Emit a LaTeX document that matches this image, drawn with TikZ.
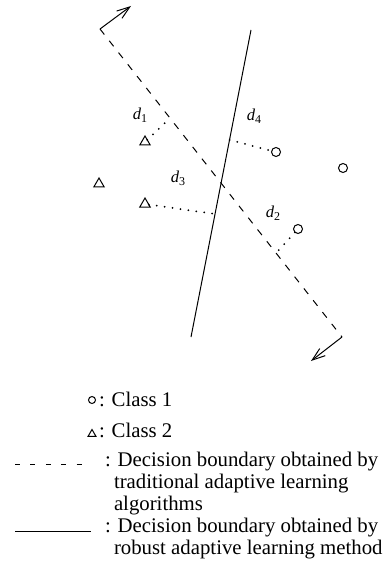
\documentclass[tikz,border=0pt]{standalone}
\usepackage{fontspec}
\setmainfont{Liberation Serif}
\usetikzlibrary{arrows.meta,shapes.geometric}
\newcommand{\dsub}[1]{\textit{d}\raisebox{-0.35ex}{\fontsize{6}{6}\selectfont\upshape #1}}
\begin{document}
\begin{tikzpicture}[x=0.5pt,y=-0.5pt,
  every node/.style={inner sep=0pt, outer sep=0pt},
  bound/.style={line width=0.5pt},
  tradline/.style={bound, dash pattern=on 3.5pt off 4pt},
  barb/.style={bound, -{Straight Barb[length=6.5pt,width=4.5pt]}},
  gapline/.style={line width=1pt, line cap=round, dash pattern=on 0pt off 4pt},
  cls1/.style={circle, draw, line width=0.5pt, minimum size=4.5pt},
  cls2/.style={regular polygon, regular polygon sides=3, draw, line width=0.5pt, minimum size=6pt},
  dlabel/.style={font=\fontsize{8.3}{9}\selectfont},
  legend/.style={anchor=base west, font=\fontsize{10.4}{11}\selectfont},
]
\useasboundingbox (0,0) rectangle (382,577);
% boundaries
\coordinate (tA) at (100,29);
\coordinate (tB) at (342,337);
\coordinate (tAtip) at (131,6);
\coordinate (tBtip) at (311,361);
\coordinate (rA) at (251,30);
\coordinate (rB) at (191,337);
\draw[tradline] (tA) -- (tB);
\draw[barb] (tA) -- (tAtip);
\draw[barb] (tB) -- (tBtip);
\draw[bound] (rA) -- (rB);
% samples
\node[cls2] (t1) at (145,142) {};
\node[cls2] (t2) at (99,184) {};
\node[cls2] (t3) at (145,204) {};
\node[cls1] (c1) at (276,152) {};
\node[cls1] (c2) at (343,168) {};
\node[cls1] (c3) at (298,229) {};
% feet on boundaries
\coordinate (f1) at (170,118);
\coordinate (f4) at (229.5,140);
\coordinate (f3) at (215,214);
\coordinate (f2) at (276,253);
\draw[gapline] (t1) -- (f1);
\draw[gapline] (f4) -- (c1);
\draw[gapline] (t3) -- (f3);
\draw[gapline] (c3) -- (f2);
% distance labels
\node[dlabel] (l1) at (140,115) {\dsub{1}};
\node[dlabel] (l4) at (254,116) {\dsub{4}};
\node[dlabel] (l3) at (178,178) {\dsub{3}};
\node[dlabel] (l2) at (273,213) {\dsub{2}};
% legend
\node[cls1, minimum size=3.5pt] (k1) at (92,400) {};
\node[legend] (k1t) at (99,406) {: Class 1};
\node[cls2, minimum size=4.5pt] (k2) at (92,434) {};
\node[legend] (k2t) at (99,437) {: Class 2};
\coordinate (k3a) at (15,464);
\coordinate (k3b) at (84,464);
\draw[bound, dash pattern=on 2.5pt off 5.2pt] (k3a) -- (k3b);
\node[legend] (k3t) at (105,466) {: Decision boundary obtained by};
\node[legend] (k3u) at (114,488) {traditional adaptive learning};
\node[legend] (k3v) at (114,510) {algorithms};
\coordinate (k4a) at (15,531);
\coordinate (k4b) at (91,531);
\draw[bound] (k4a) -- (k4b);
\node[legend] (k4t) at (105,532) {: Decision boundary obtained by};
\node[legend] (k4u) at (114,554) {robust adaptive learning method};
\end{tikzpicture}
\end{document}
